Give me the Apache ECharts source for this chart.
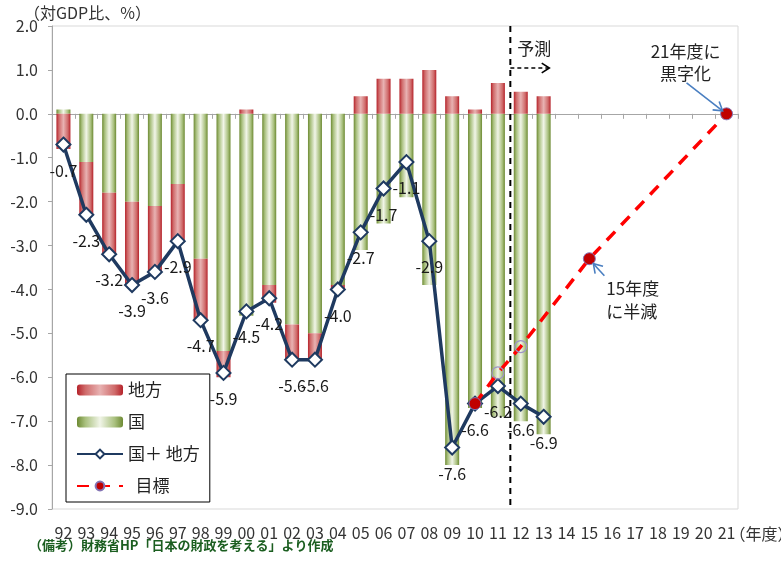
<!DOCTYPE html>
<html>
<head>
<meta charset="utf-8">
<script src="https://cdn.jsdelivr.net/npm/echarts@6/dist/echarts.min.js"></script>
<style>html,body{margin:0;padding:0;background:#fff}#c{width:781px;height:565px}</style>
</head>
<body>
<div id="c"></div>
<script>
// 年度 categories
const years = ['92','93','94','95','96','97','98','99','00','01','02','03','04','05','06','07','08','09','10','11','12','13','14','15','16','17','18','19','20','21'];
// 国 (central government balance, % of GDP)
const national = [0.1,-1.1,-1.8,-2.0,-2.1,-1.6,-3.3,-5.4,-4.6,-3.9,-4.8,-5.0,-3.9,-3.1,-2.5,-1.9,-3.9,-8.0,-6.7,-6.9,-7.0,-7.3,null,null,null,null,null,null,null,null];
// 地方 (local government balance)
const local = [-0.8,-1.2,-1.4,-1.9,-1.5,-1.3,-1.4,-0.6,0.1,-0.4,-0.8,-0.6,-0.1,0.4,0.8,0.8,1.0,0.4,0.1,0.7,0.5,0.4,null,null,null,null,null,null,null,null];
// 国＋地方
const total = [-0.7,-2.3,-3.2,-3.9,-3.6,-2.9,-4.7,-5.9,-4.5,-4.2,-5.6,-5.6,-4.0,-2.7,-1.7,-1.1,-2.9,-7.6,-6.6,-6.2,-6.6,-6.9,null,null,null,null,null,null,null,null];
// 目標
const target = [null,null,null,null,null,null,null,null,null,null,null,null,null,null,null,null,null,null,-6.6,-5.9,-5.3,null,null,-3.3,null,null,null,null,null,0];
const hollowTarget = ['11','12'];
const yTicks = {min:-9, max:2, interval:1};

const FONT = '"Noto Sans CJK JP", "Noto Sans", sans-serif';
const chart = echarts.init(document.getElementById('c'));

const redGrad = new echarts.graphic.LinearGradient(0,0,1,0,[
  {offset:0,color:'#b5222a'},{offset:0.18,color:'#cf6a6a'},{offset:0.5,color:'#e8b2b2'},{offset:0.82,color:'#cf6a6a'},{offset:1,color:'#b5222a'}]);
const greenGrad = new echarts.graphic.LinearGradient(0,0,1,0,[
  {offset:0,color:'#6d8a33'},{offset:0.18,color:'#a9c07e'},{offset:0.5,color:'#f1f5e8'},{offset:0.82,color:'#a9c07e'},{offset:1,color:'#6d8a33'}]);

const NAVY = '#1f3a60';

const targetData = target.map((v,i)=>{
  if (v === null) return null;
  if (hollowTarget.indexOf(years[i]) >= 0) {
    return {value:v, itemStyle:{color:'rgba(255,255,255,0)', borderColor:'#9d94c6', borderWidth:1.2}};
  }
  return v;
});

const option = {
  animation:false,
  textStyle:{fontFamily:FONT},
  grid:{left:52, right:43, top:26, bottom:56, show:true, borderColor:'#d9d9d9', borderWidth:1, backgroundColor:'transparent'},
  legend:{
    orient:'vertical', left:66, top:374,
    data:['地方','国','国＋地方','目標'],
    formatter: n => n === '国＋地方' ? '国＋ 地方' : (n === '目標' ? '  目標' : n),
    itemWidth:46, itemHeight:11, itemGap:14,
    padding:[7,10,7,10],
    borderColor:'#000', borderWidth:1,
    textStyle:{fontSize:17, color:'#222', fontFamily:FONT, lineHeight:18}
  },
  xAxis:[
    {type:'category', data:years, position:'bottom',
     axisLine:{show:false, onZero:false}, axisTick:{show:false},
     axisLabel:{fontSize:16, color:'#333', margin:16, fontFamily:FONT, interval:0}},
    {type:'category', data:years, position:'top',
     axisLine:{show:true, onZero:true, lineStyle:{color:'#a6a6a6', width:1}},
     axisTick:{show:true, inside:true, length:5, lineStyle:{color:'#a6a6a6'}},
     axisLabel:{show:false}, splitLine:{show:false}}
  ],
  yAxis:{type:'value', min:yTicks.min, max:yTicks.max, interval:yTicks.interval,
    axisLine:{show:true, lineStyle:{color:'#a6a6a6'}},
    axisTick:{show:true, length:4, lineStyle:{color:'#a6a6a6'}},
    splitLine:{show:false},
    axisLabel:{fontSize:16, color:'#333', margin:14, fontFamily:FONT, formatter:v=>v.toFixed(1)}},
  series:[
    {name:'国', type:'bar', stack:'s', data:national, barWidth:14, itemStyle:{color:greenGrad}},
    {name:'地方', type:'bar', stack:'s', data:local, barWidth:14, itemStyle:{color:redGrad}},
    {name:'国＋地方', type:'line', data:total, symbol:'diamond', symbolSize:14,
     lineStyle:{color:NAVY, width:3.5}, itemStyle:{color:'#fff', borderColor:NAVY, borderWidth:2},
     label:{show:true, position:'bottom', distance:10, fontSize:16, color:'#1a1a1a', fontFamily:FONT,
       formatter:p=>p.value.toFixed(1)}, z:3},
    {name:'目標', type:'line', data:targetData, connectNulls:true, symbol:'circle', symbolSize:12,
     lineStyle:{color:'#ff0000', width:3.5, type:[12,9]},
     itemStyle:{color:'#c00000', borderColor:'#8474b4', borderWidth:1}, z:4}
  ]
};
chart.setOption(option);

const fd = {xAxisIndex:0, yAxisIndex:0};
const p11 = chart.convertToPixel(fd, ['11', 0]);
const p12 = chart.convertToPixel(fd, ['12', 0]);
const xs = (p11[0] + p12[0]) / 2 + 1;
const yTop = chart.convertToPixel(fd, ['11', yTicks.max])[1];
const yBot = chart.convertToPixel(fd, ['11', yTicks.min])[1];
const p21 = chart.convertToPixel(fd, ['21', target[29]]);
const p15 = chart.convertToPixel(fd, ['15', target[23]]);
const BLUE = '#4a7fc1';

function arrowHead(x, y, ang, len, color, w){
  const a1 = ang + Math.PI*0.82, a2 = ang - Math.PI*0.82;
  return {type:'polyline', shape:{points:[[x+len*Math.cos(a1), y+len*Math.sin(a1)],[x,y],[x+len*Math.cos(a2), y+len*Math.sin(a2)]]},
    style:{stroke:color, lineWidth:w, fill:null}, z:10};
}
const a1s = [p21[0]-40, p21[1]-31], a1e = [p21[0]-4, p21[1]-3];
const ang1 = Math.atan2(a1e[1]-a1s[1], a1e[0]-a1s[0]);
const a2s = [p15[0]+15, p15[1]+17], a2e = [p15[0]+4, p15[1]+5];
const ang2 = Math.atan2(a2e[1]-a2s[1], a2e[0]-a2s[0]);

chart.setOption({
  graphic:[
    {type:'line', shape:{x1:xs, y1:yTop, x2:xs, y2:yBot}, style:{stroke:'#000', lineWidth:2, lineDash:[6,5]}, z:10},
    {type:'line', shape:{x1:xs, y1:68, x2:xs+38, y2:68}, style:{stroke:'#000', lineWidth:1.6, lineDash:[4,3]}, z:10},
    arrowHead(xs+39, 68, 0, 9, '#000', 1.6),
    {type:'text', left:xs+7, top:40, style:{text:'予測', fontSize:17, fill:'#222', fontFamily:FONT}, z:10},
    {type:'text', x:p21[0]-41, y:52, style:{text:'21年度に', fontSize:17, fill:'#222', fontFamily:FONT, align:'center', verticalAlign:'middle'}, z:10},
    {type:'text', x:p21[0]-41, y:74, style:{text:'黒字化', fontSize:17, fill:'#222', fontFamily:FONT, align:'center', verticalAlign:'middle'}, z:10},
    {type:'line', shape:{x1:a1s[0], y1:a1s[1], x2:a1e[0], y2:a1e[1]}, style:{stroke:BLUE, lineWidth:1.6}, z:10},
    arrowHead(a1e[0], a1e[1], ang1, 10, BLUE, 1.6),
    {type:'text', x:p15[0]+17, y:289, style:{text:'15年度', fontSize:17, fill:'#222', fontFamily:FONT, align:'left', verticalAlign:'middle'}, z:10},
    {type:'text', x:p15[0]+17, y:312, style:{text:'に半減', fontSize:17, fill:'#222', fontFamily:FONT, align:'left', verticalAlign:'middle'}, z:10},
    {type:'line', shape:{x1:a2s[0], y1:a2s[1], x2:a2e[0], y2:a2e[1]}, style:{stroke:BLUE, lineWidth:1.6}, z:10},
    arrowHead(a2e[0], a2e[1], ang2, 10, BLUE, 1.6),
    {type:'text', x:24, y:13, style:{text:'（対GDP比、%）', fontSize:16, fill:'#333', fontFamily:FONT, verticalAlign:'middle'}, z:10},
    {type:'text', x:p21[0]+3, y:534, style:{text:'（年度）', fontSize:16, fill:'#333', fontFamily:FONT, verticalAlign:'middle'}, z:10},
    {type:'text', x:29, y:545, style:{text:'（備考）財務省HP「日本の財政を考える」より作成', fontSize:13, fill:'#1b5e20', fontFamily:FONT, fontWeight:'bold', verticalAlign:'middle'}, z:10}
  ]
});
</script>
</body>
</html>
